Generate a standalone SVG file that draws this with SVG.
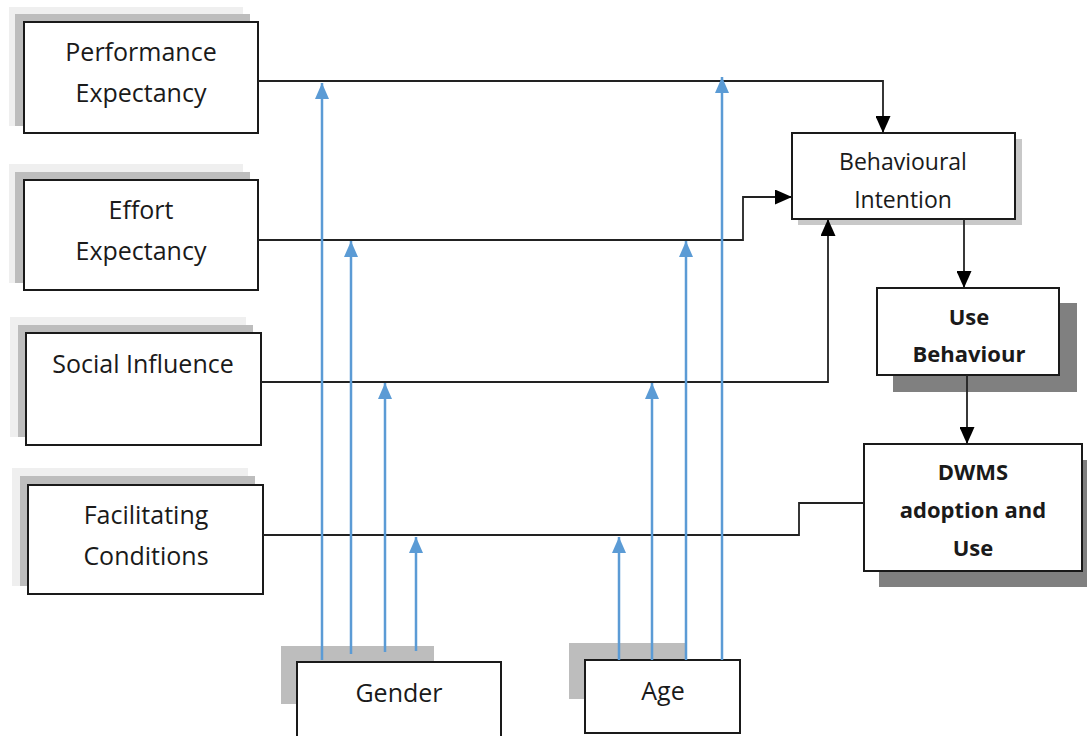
<svg xmlns="http://www.w3.org/2000/svg" width="1087" height="736" viewBox="0 0 1087 736">
<style>
.box{fill:#fff;stroke:#1a1a1a;stroke-width:2}
.sh1{fill:#efefef}
.sh2{fill:#bdbdbd}
.sh3{fill:#808080}
.shl{fill:#c8c8c8}
.t{font-family:"Open Sans","Liberation Sans",sans-serif;font-size:25px;fill:#1a1a1a;text-anchor:middle}
.ts{font-size:23px}
.tb{font-weight:bold;font-size:22px}
.k{fill:none;stroke:#222;stroke-width:1.8}
.b{fill:none;stroke:#5b9bd5;stroke-width:2.5}
</style>
<defs>
<marker id="ak" viewBox="0 0 17 15" refX="17" refY="7.5" markerWidth="17" markerHeight="15" markerUnits="userSpaceOnUse" orient="auto"><path d="M0,0 L17,7.5 L0,15 z" fill="#000"/></marker>
<marker id="ab" viewBox="0 0 16 14" refX="16" refY="7" markerWidth="16" markerHeight="14" markerUnits="userSpaceOnUse" orient="auto"><path d="M0,0 L16,7 L0,14 z" fill="#5b9bd5"/></marker>
</defs>

<g id="performance">
<rect class="sh1" x="9" y="7" width="234" height="119"/>
<rect class="sh2" x="15" y="14" width="235" height="112"/>
<rect class="box" x="24" y="22" width="234" height="111"/>
<text class="t" x="141" y="61">Performance</text>
<text class="t" x="141" y="102">Expectancy</text>
</g>

<g id="effort">
<rect class="sh1" x="9" y="164" width="234" height="119"/>
<rect class="sh2" x="15" y="172" width="235" height="111"/>
<rect class="box" x="24" y="180" width="234" height="110"/>
<text class="t" x="141" y="219">Effort</text>
<text class="t" x="141" y="260">Expectancy</text>
</g>

<g id="social">
<rect class="sh1" x="10" y="317" width="236" height="120"/>
<rect class="sh2" x="18" y="325" width="235" height="112"/>
<rect class="box" x="26" y="333" width="235" height="112"/>
<text class="t" x="143" y="373">Social Influence</text>
</g>

<g id="facilitating">
<rect class="sh1" x="12" y="468" width="236" height="118"/>
<rect class="sh2" x="20" y="476" width="235" height="110"/>
<rect class="box" x="28" y="485" width="235" height="109"/>
<text class="t" x="146" y="524">Facilitating</text>
<text class="t" x="146" y="565">Conditions</text>
</g>

<g id="gender">
<rect class="sh2" x="281" y="646" width="153" height="58"/>
<rect class="box" x="297" y="662" width="204" height="80"/>
<text class="t" x="399" y="702">Gender</text>
</g>

<g id="age">
<rect class="sh2" x="569" y="643" width="116" height="56"/>
<rect class="box" x="585" y="660" width="155" height="73"/>
<text class="t" x="663" y="700">Age</text>
</g>

<g id="intention">
<rect class="shl" x="798" y="139" width="224" height="86"/>
<rect class="box" x="792" y="133" width="223" height="86"/>
<text class="t ts" x="903" y="170">Behavioural</text>
<text class="t ts" x="903" y="208">Intention</text>
</g>

<g id="use">
<rect class="sh3" x="893" y="303" width="184" height="89"/>
<rect class="box" x="877" y="288" width="182" height="87"/>
<text class="t tb" x="969" y="325">Use</text>
<text class="t tb" x="969" y="362">Behaviour</text>
</g>

<g id="dwms">
<rect class="sh3" x="879" y="460" width="210" height="127"/>
<rect class="box" x="864" y="444" width="218" height="127"/>
<text class="t tb" x="973" y="480">DWMS</text>
<text class="t tb" x="973" y="518">adoption and</text>
<text class="t tb" x="973" y="556">Use</text>
</g>

<g id="connectors">
<path class="k" d="M258,81 H883 V133" marker-end="url(#ak)"/>
<path class="k" d="M258,240 H743 V197 H792" marker-end="url(#ak)"/>
<path class="k" d="M261,382 H828 V219" marker-end="url(#ak)"/>
<path class="k" d="M263,535 H799 V503 H864"/>
<path class="k" d="M964,219 V288" marker-end="url(#ak)"/>
<path class="k" d="M967,375 V444" marker-end="url(#ak)"/>
<path class="b" d="M322,660 V83" marker-end="url(#ab)"/>
<path class="b" d="M351,654 V241" marker-end="url(#ab)"/>
<path class="b" d="M385,652 V383" marker-end="url(#ab)"/>
<path class="b" d="M416,651 V537" marker-end="url(#ab)"/>
<path class="b" d="M619,660 V537" marker-end="url(#ab)"/>
<path class="b" d="M652,660 V383" marker-end="url(#ab)"/>
<path class="b" d="M686,660 V241" marker-end="url(#ab)"/>
<path class="b" d="M722,660 V77" marker-end="url(#ab)"/>
</g>
</svg>
